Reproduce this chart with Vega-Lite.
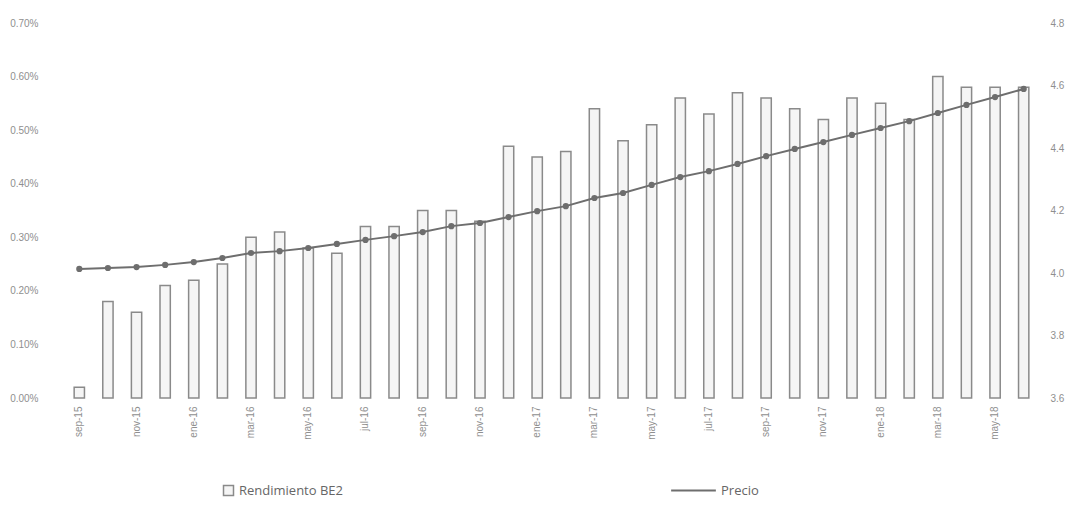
{
  "$schema": "https://vega.github.io/schema/vega-lite/v6.json",
  "width": 973,
  "height": 375,
  "autosize": {"type": "none"},
  "padding": {"left": 65, "top": 23, "right": 35, "bottom": 122},
  "background": "white",
  "config": {
    "view": {"stroke": null},
    "font": "Liberation Sans",
    "axis": {"grid": false, "domain": false, "ticks": false, "labelColor": "#8f8f8f", "labelFontSize": 10, "labelFont": "Liberation Sans"},
    "legend": {"labelFont": "Open Sans", "labelColor": "#666666", "labelFontSize": 13}
  },
  "data": {
    "values": [
      {"mes": "sep-15", "rend": 0.0002, "precio": 4.013},
      {"mes": "oct-15", "rend": 0.0018, "precio": 4.016},
      {"mes": "nov-15", "rend": 0.0016, "precio": 4.019},
      {"mes": "dic-15", "rend": 0.0021, "precio": 4.026},
      {"mes": "ene-16", "rend": 0.0022, "precio": 4.035},
      {"mes": "feb-16", "rend": 0.0025, "precio": 4.048},
      {"mes": "mar-16", "rend": 0.0030, "precio": 4.064},
      {"mes": "abr-16", "rend": 0.0031, "precio": 4.070},
      {"mes": "may-16", "rend": 0.0028, "precio": 4.080},
      {"mes": "jun-16", "rend": 0.0027, "precio": 4.093},
      {"mes": "jul-16", "rend": 0.0032, "precio": 4.106},
      {"mes": "ago-16", "rend": 0.0032, "precio": 4.118},
      {"mes": "sep-16", "rend": 0.0035, "precio": 4.131},
      {"mes": "oct-16", "rend": 0.0035, "precio": 4.150},
      {"mes": "nov-16", "rend": 0.0033, "precio": 4.160},
      {"mes": "dic-16", "rend": 0.0047, "precio": 4.179},
      {"mes": "ene-17", "rend": 0.0045, "precio": 4.198},
      {"mes": "feb-17", "rend": 0.0046, "precio": 4.214},
      {"mes": "mar-17", "rend": 0.0054, "precio": 4.240},
      {"mes": "abr-17", "rend": 0.0048, "precio": 4.256},
      {"mes": "may-17", "rend": 0.0051, "precio": 4.282},
      {"mes": "jun-17", "rend": 0.0056, "precio": 4.307},
      {"mes": "jul-17", "rend": 0.0053, "precio": 4.326},
      {"mes": "ago-17", "rend": 0.0057, "precio": 4.349},
      {"mes": "sep-17", "rend": 0.0056, "precio": 4.374},
      {"mes": "oct-17", "rend": 0.0054, "precio": 4.397},
      {"mes": "nov-17", "rend": 0.0052, "precio": 4.419},
      {"mes": "dic-17", "rend": 0.0056, "precio": 4.442},
      {"mes": "ene-18", "rend": 0.0055, "precio": 4.464},
      {"mes": "feb-18", "rend": 0.0052, "precio": 4.486},
      {"mes": "mar-18", "rend": 0.0060, "precio": 4.512},
      {"mes": "abr-18", "rend": 0.0058, "precio": 4.538},
      {"mes": "may-18", "rend": 0.0058, "precio": 4.563},
      {"mes": "jun-18", "rend": 0.0058, "precio": 4.589}
    ]
  },
  "encoding": {
    "x": {
      "field": "mes",
      "type": "nominal",
      "sort": null,
      "scale": {"paddingInner": 0.64, "paddingOuter": 0.32},
      "axis": {
        "title": null,
        "labelAngle": -90,
        "labelPadding": 8,
        "values": ["sep-15", "nov-15", "ene-16", "mar-16", "may-16", "jul-16", "sep-16", "nov-16", "ene-17", "mar-17", "may-17", "jul-17", "sep-17", "nov-17", "ene-18", "mar-18", "may-18"]
      }
    }
  },
  "layer": [
    {
      "mark": {"type": "bar", "stroke": "#8a8a8a", "strokeWidth": 1.5},
      "encoding": {
        "y": {
          "field": "rend",
          "type": "quantitative",
          "scale": {"domain": [0, 0.007]},
          "axis": {"title": null, "format": ".2%", "values": [0, 0.001, 0.002, 0.003, 0.004, 0.005, 0.006, 0.007], "labelPadding": 27}
        },
        "fill": {
          "datum": "Rendimiento BE2",
          "type": "nominal",
          "scale": {"range": ["#f5f5f5"]},
          "legend": {
            "title": null,
            "orient": "none",
            "legendX": 157,
            "legendY": 461,
            "symbolType": "square",
            "symbolSize": 100,
            "symbolStrokeColor": "#8a8a8a",
            "symbolStrokeWidth": 1.5
          }
        }
      }
    },
    {
      "mark": {"type": "line", "color": "#6e6e6e", "strokeWidth": 2, "point": {"filled": true, "color": "#6e6e6e", "size": 18}},
      "encoding": {
        "y": {
          "field": "precio",
          "type": "quantitative",
          "scale": {"domain": [3.6, 4.8]},
          "axis": {"title": null, "orient": "right", "format": ".1f", "values": [3.6, 3.8, 4.0, 4.2, 4.4, 4.6, 4.8], "labelPadding": 12}
        },
        "stroke": {
          "datum": "Precio",
          "type": "nominal",
          "scale": {"range": ["#6e6e6e"]},
          "legend": {
            "title": null,
            "orient": "none",
            "legendX": 605,
            "legendY": 444,
            "symbolType": "stroke",
            "symbolSize": 2000,
            "symbolStrokeWidth": 2
          }
        }
      }
    }
  ],
  "resolve": {"scale": {"y": "independent"}}
}
